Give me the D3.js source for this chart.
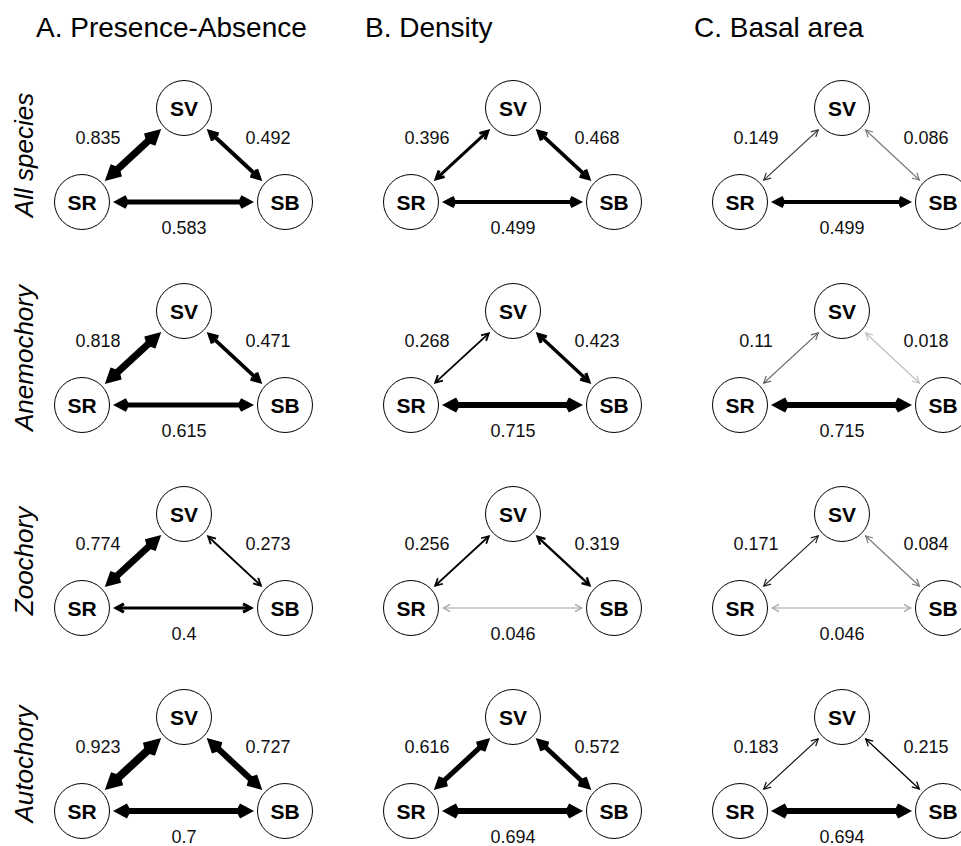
<!DOCTYPE html>
<html>
<head>
<meta charset="utf-8">
<script src="https://cdn.jsdelivr.net/npm/d3@7/dist/d3.min.js"></script>
<style>
  html, body { margin: 0; padding: 0; background: #fff; }
  svg { display: block; }
  text { font-family: "Liberation Sans", Arial, Helvetica, sans-serif; }
</style>
</head>
<body>
<svg id="chart" width="961" height="846"></svg>
<script>
// Panel titles (columns) and dispersal groups (rows)
const panels = ["A. Presence-Absence", "B. Density", "C. Basal area"];
const groups = ["All species", "Anemochory", "Zoochory", "Autochory"];
const nodeNames = ["SV", "SR", "SB"];

// Edge pairs drawn in every triangle, in the order of the value arrays below
const edgePairs = [["SR", "SV"], ["SV", "SB"], ["SR", "SB"]];

// Correlations per group: [SR–SV, SV–SB, SR–SB]
const presenceAbsence = [
  [0.835, 0.492, 0.583],
  [0.818, 0.471, 0.615],
  [0.774, 0.273, 0.4],
  [0.923, 0.727, 0.7]
];
const density = [
  [0.396, 0.468, 0.499],
  [0.268, 0.423, 0.715],
  [0.256, 0.319, 0.046],
  [0.616, 0.572, 0.694]
];
const basalArea = [
  [0.149, 0.086, 0.499],
  [0.11, 0.018, 0.715],
  [0.171, 0.084, 0.046],
  [0.183, 0.215, 0.694]
];
const panelValues = [presenceAbsence, density, basalArea];

const svg = d3.select("#chart");

// Layout scales: left corner (SR) of each triangle per column, apex (SV) per row
const xCol = d3.scalePoint().domain(panels).range([82, 740]);
const yRow = d3.scalePoint().domain(groups).range([108, 717]);

// Node offsets relative to the SR x and the SV y of a panel
const nodeOffset = { SV: [102, 0], SR: [0, 94], SB: [203, 94] };
const R = 27.5;
const GAP = 3.5;

// Edge width and grey level from the correlation value
const cut = 0.2;
const widthScale = d3.scaleLinear().domain([cut, 0.923]).range([1.2, 8]).clamp(true);
const greyScale = d3.scaleLinear().domain([0.02, cut]).range(["#c0c0c0", "#000000"]).clamp(true);

function drawArrowEdge(g, a, b, v) {
  const w = widthScale(v);
  const col = greyScale(v);
  const dx = b[0] - a[0], dy = b[1] - a[1];
  const L = Math.hypot(dx, dy);
  const ux = dx / L, uy = dy / L;
  const theta = 28 * Math.PI / 180;
  const arm = 7 + 0.55 * w;
  const miter = w / (2 * Math.sin(theta));
  // Vertex of each arrowhead, pulled back so the mitred tip reaches the node gap
  const t1 = [a[0] + ux * (R + GAP + miter), a[1] + uy * (R + GAP + miter)];
  const t2 = [b[0] - ux * (R + GAP + miter), b[1] - uy * (R + GAP + miter)];
  const rot = (x, y, ang) => [x * Math.cos(ang) - y * Math.sin(ang), x * Math.sin(ang) + y * Math.cos(ang)];

  const line = d3.line();
  g.append("path")
    .attr("d", line([t1, t2]))
    .attr("stroke", col).attr("stroke-width", w).attr("fill", "none");

  // Arrowhead at b (pointing along u) and at a (pointing along -u)
  [[t2, ux, uy], [t1, -ux, -uy]].forEach(([t, px, py]) => {
    const r1 = rot(-px, -py, theta), r2 = rot(-px, -py, -theta);
    const pts = [[t[0] + r1[0] * arm, t[1] + r1[1] * arm], t, [t[0] + r2[0] * arm, t[1] + r2[1] * arm]];
    g.append("path")
      .attr("d", line(pts))
      .attr("stroke", col).attr("stroke-width", w).attr("fill", "none")
      .attr("stroke-linejoin", "miter").attr("stroke-miterlimit", 10)
      .attr("stroke-linecap", "butt");
  });
}

// Column titles
svg.selectAll("text.title")
  .data(panels).enter().append("text")
  .attr("class", "title")
  .attr("x", d => xCol(d) - 46)
  .attr("y", 37)
  .attr("font-size", 28)
  .attr("fill", "#000")
  .text(d => d);

// Row labels
svg.selectAll("text.rowlab")
  .data(groups).enter().append("text")
  .attr("class", "rowlab")
  .attr("transform", d => `translate(33,${yRow(d) + 47}) rotate(-90)`)
  .attr("text-anchor", "middle")
  .attr("font-size", 26)
  .attr("font-style", "italic")
  .attr("fill", "#000")
  .text(d => d);

panels.forEach((p, pi) => {
  groups.forEach((gname, gi) => {
    const x0 = xCol(p), y0 = yRow(gname);
    const pos = {};
    nodeNames.forEach(n => { pos[n] = [x0 + nodeOffset[n][0], y0 + nodeOffset[n][1]]; });
    const vals = panelValues[pi][gi];
    const g = svg.append("g");

    // Edges
    edgePairs.forEach((pair, ei) => drawArrowEdge(g, pos[pair[0]], pos[pair[1]], vals[ei]));

    // Edge labels: left, right, bottom
    const labelPos = [
      [pos.SR[0] + 16, pos.SV[1] + 36],
      [pos.SB[0] - 17, pos.SV[1] + 36],
      [pos.SV[0], pos.SR[1] + 32]
    ];
    vals.forEach((v, ei) => {
      g.append("text")
        .attr("x", labelPos[ei][0]).attr("y", labelPos[ei][1])
        .attr("text-anchor", "middle")
        .attr("font-size", 18)
        .attr("fill", "#111")
        .text(String(v));
    });

    // Nodes
    nodeNames.forEach(n => {
      g.append("circle")
        .attr("cx", pos[n][0]).attr("cy", pos[n][1]).attr("r", R)
        .attr("fill", "#fff").attr("stroke", "#000").attr("stroke-width", 1);
      g.append("text")
        .attr("x", pos[n][0]).attr("y", pos[n][1])
        .attr("dy", "0.36em")
        .attr("text-anchor", "middle")
        .attr("font-size", 21)
        .attr("font-weight", "bold")
        .attr("fill", "#000")
        .text(n);
    });
  });
});
</script>
</body>
</html>
